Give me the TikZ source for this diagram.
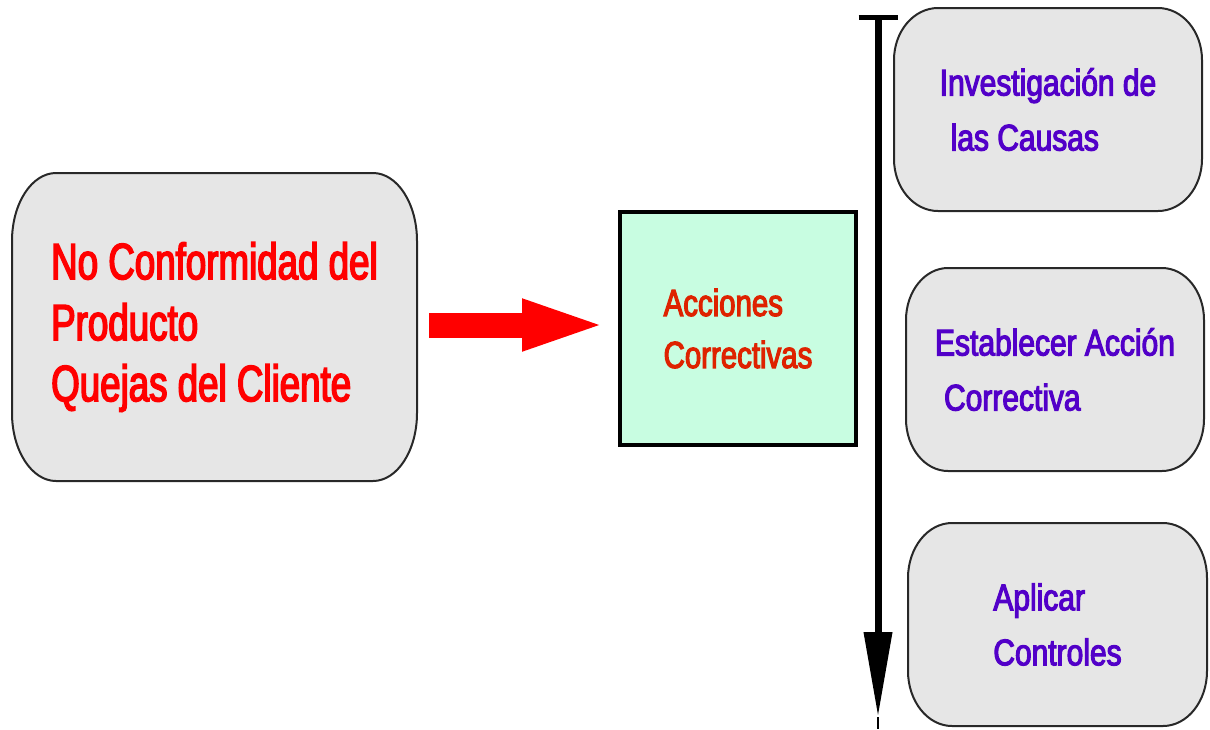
\documentclass[tikz,border=0pt]{standalone}
\usepackage{fontspec}
\setmainfont{Liberation Sans}
\newfontfamily\redfont[FakeStretch=0.72,FakeBold=3]{Liberation Sans}
\newfontfamily\accfont[FakeStretch=0.78,FakeBold=3]{Liberation Sans}
\newfontfamily\purfont[FakeStretch=0.81,FakeBold=3]{Liberation Sans}
\usetikzlibrary{arrows.meta,backgrounds}
\definecolor{boxgray}{RGB}{230,230,230}
\definecolor{boxline}{RGB}{40,40,40}
\definecolor{mint}{RGB}{200,253,225}
\definecolor{accred}{RGB}{222,34,0}
\definecolor{purp}{RGB}{82,0,200}
\tikzset{
  gbox/.style={draw=boxline, fill=boxgray, line width=2pt},
  rtext/.style={inner sep=0pt, outer sep=0pt, align=left, text=red,
    font={\redfont\fontsize{51}{61}\selectfont}},
  accbox/.style={draw=black, line width=4pt, fill=mint, inner sep=0pt,
    minimum width=236pt, minimum height=233pt, align=left, text=accred,
    font={\accfont\fontsize{37.7}{52}\selectfont}},
  ptext/.style={inner sep=0pt, outer sep=0pt, align=left, text=purp,
    minimum height=203pt, font={\purfont\fontsize{37}{55}\selectfont}},
  fatarrow/.style={red, line width=25pt, -{Triangle[length=88pt,width=45pt]}},
  timeline/.style={black, line width=7pt,
    {Bar[width=39pt,line width=5pt]}-{Triangle[length=85pt,width=27pt]}},
}
\newcommand\ebox[3]{%
  \begin{scope}[on background layer]
  \draw[gbox] ([xshift=#2]#1.north west) -- ([xshift=-#2]#1.north east)
    .. controls ([xshift={-0.448*#2}]#1.north east) and ([yshift={-0.448*#3}]#1.north east) .. ([yshift=-#3]#1.north east)
    -- ([yshift=#3]#1.south east)
    .. controls ([yshift={0.448*#3}]#1.south east) and ([xshift={-0.448*#2}]#1.south east) .. ([xshift=-#2]#1.south east)
    -- ([xshift=#2]#1.south west)
    .. controls ([xshift={0.448*#2}]#1.south west) and ([yshift={0.448*#3}]#1.south west) .. ([yshift=#3]#1.south west)
    -- ([yshift=-#3]#1.north west)
    .. controls ([yshift={-0.448*#3}]#1.north west) and ([xshift={0.448*#2}]#1.north west) .. ([xshift=#2]#1.north west)
    -- cycle;
  \end{scope}}
\begin{document}
\begin{tikzpicture}[x=1pt,y=-1pt]
\useasboundingbox (0,0) rectangle (1210,729);
% left box
\node[rtext, minimum width=405pt, minimum height=308pt] (nc) at (214.5,327)
  {No Conformidad del\\Producto\\Quejas del Cliente};
\ebox{nc}{44pt}{68pt}
% central box
\node[accbox] (ac) at (738,328.5) {Acciones\\Correctivas};
% right boxes
\node[ptext, minimum width=308pt] (ic) at (1048,109.5)
  {Investigación de\\\hspace*{11pt}las Causas};
\ebox{ic}{44pt}{52pt}
\node[ptext, minimum width=298pt] (ea) at (1055,369.5)
  {Establecer Acción\\\hspace*{9pt}Correctiva};
\ebox{ea}{42pt}{52pt}
\node[ptext, minimum width=299pt] (apc) at (1057.5,624.5)
  {Aplicar\\Controles};
\ebox{apc}{44pt}{55pt}
% red arrow
\coordinate (ra) at ([xshift=12pt,yshift=2pt]nc.east);
\coordinate (rb0) at ([xshift=-8pt]ac.west);
\draw[fatarrow] (ra) -- (rb0 |- ra);
% timeline arrow
\coordinate (vt) at (878,15);
\coordinate (vb) at (878,717);
\coordinate (ve) at (878,729);
\draw[timeline] (vt) -- (vb);
\draw[line width=2pt] (vb) -- (ve);
\end{tikzpicture}
\end{document}
